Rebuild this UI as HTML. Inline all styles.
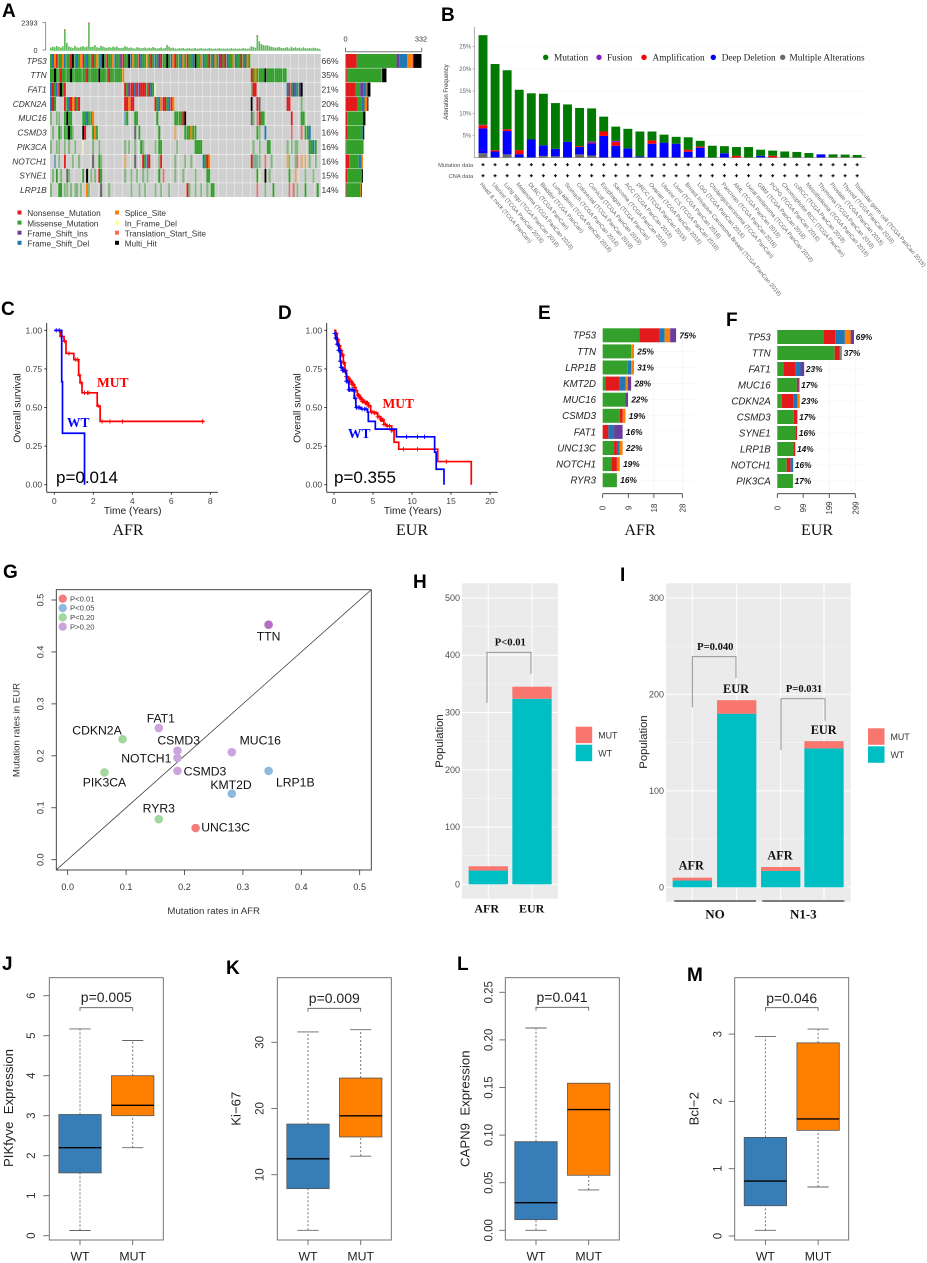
<!DOCTYPE html>
<html lang="en">
<head>
<meta charset="utf-8">
<title>Mutation landscape figure</title>
<style>
html,body{margin:0;padding:0;background:#fff;}
svg{display:block;font-family:"Liberation Sans",sans-serif;}
svg text{white-space:pre;}
</style>
</head>
<body>
<svg id="figure" xmlns="http://www.w3.org/2000/svg" width="927" height="1263" viewBox="0 0 927 1263">
  <rect x="0" y="0" width="927" height="1263" fill="#ffffff"/>
  <g id="panel-a"></g>
  <g id="panel-b"></g>
  <g id="panel-c"></g>
  <g id="panel-d"></g>
  <g id="panel-e"></g>
  <g id="panel-f"></g>
  <g id="panel-g"></g>
  <g id="panel-h"></g>
  <g id="panel-i"></g>
  <g id="panel-j"></g>
  <g id="panel-k"></g>
  <g id="panel-l"></g>
  <g id="panel-m"></g>
</svg>
<script>
/* ---------- Panel A data ---------- */
const oncoGenes = ["TP53","TTN","FAT1","CDKN2A","MUC16","CSMD3","PIK3CA","NOTCH1","SYNE1","LRP1B"];
const oncoPercents = ["66%","35%","21%","20%","17%","16%","16%","16%","15%","14%"];
const oncoTP53 = [[0,"MDSNMMSDMMNHMDMSNMDMMNMSMDHMNMMSDMMINMMHDSMMNDMMSMNMDMINMMHMDSNMMDSMNMMDHMMSDMMNMDSMINMNDMMSDMMNMDSM"]];
const oncoTTN = [[0,"MMHMMNMMMMHMMMMMMMNMMMMMHMMMMNMMMMMMS"],[100,"NMSMMMMHMMMMMMMMMM"]];
const oncoFAT1 = [[0,"DNMDNHMN"],[37,"NMINNDNINNNMNDM"],[52,"f"],[100,"mNN"],[118,"DNMIDMIH"]];
const oncoCDKN2A = [[0,"DNM"],[7,"NMDNSNMN"],[37,"NNSNN"],[52,"NMDSNNMDNS"],[100,"H"],[103,"Nh"],[118,"NN"],[125,"m"]];
const oncoMUC16 = [[0,"m"],[3,"mm"],[7,"MHMM"],[16,"MMDMMS"],[37,"dM"],[42,"MM"],[53,"M"],[62,"MMMMNH"],[100,"hm"],[103,"n"],[104,"NMM"],[120,"N"],[125,"MM"]];
const oncoCSMD3 = [[1,"m"],[4,"M"],[5,"m"],[7,"MMH"],[10,"Mm"],[16,"HN"],[21,"MSM"],[42,"h"],[44,"M"],[54,"M"],[62,"s"],[67,"MMMSMM"],[103,"Mm"],[107,"D"],[120,"n"],[125,"n"],[127,"MMD"]];
const oncoPIK3CA = [[0,"m"],[3,"m"],[4,"m"],[7,"m"],[9,"m"],[12,"m"],[16,"f"],[21,"m"],[24,"m"],[37,"m"],[39,"m"],[42,"m"],[45,"M"],[46,"m"],[52,"m"],[54,"MM"],[63,"m"],[72,"MMMM"],[101,"m"],[104,"m"],[108,"MM"],[118,"m"],[120,"m"],[122,"mm"],[129,"MMDM"]];
const oncoNOTCH1 = [[2,"d"],[4,"m"],[7,"N"],[11,"m"],[14,"m"],[21,"h"],[24,"M"],[25,"m"],[37,"s"],[42,"h"],[46,"NMDN"],[54,"m"],[55,"N"],[62,"m"],[67,"m"],[70,"m"],[76,"DMNS"],[100,"N"],[101,"mdm"],[104,"m"],[107,"n"],[110,"m"],[118,"s"],[119,"m"],[122,"mn"],[125,"s"],[127,"s"],[129,"m"],[132,"m"]];
const oncoSYNE1 = [[1,"m"],[3,"M"],[5,"m"],[8,"h"],[9,"m"],[16,"M"],[18,"H"],[20,"m"],[22,"m"],[24,"NM"],[37,"m"],[40,"m"],[43,"m"],[46,"m"],[48,"m"],[54,"M"],[56,"n"],[62,"m"],[66,"m"],[72,"m"],[78,"MM"],[103,"M"],[104,"f"],[107,"H"],[109,"m"],[119,"M"],[122,"s"],[127,"m"],[131,"m"]];
const oncoLRP1B = [[0,"m"],[4,"MM"],[7,"mm"],[10,"m"],[12,"m"],[13,"m"],[15,"m"],[18,"S"],[19,"m"],[25,"h"],[29,"m"],[40,"m"],[44,"m"],[47,"m"],[52,"m"],[55,"m"],[59,"m"],[68,"Nm"],[72,"m"],[75,"m"],[78,"m"],[80,"MM"],[103,"n"],[107,"m"],[111,"M"],[119,"n"],[121,"n"],[123,"m"],[127,"M"],[133,"M"]];
const oncoTopCounts = [210,300,240,350,260,200,320,1800,620,300,240,180,350,230,200,280,340,240,300,2393,260,290,420,240,200,360,300,220,180,260,200,290,240,300,180,160,200,340,260,180,220,160,130,240,200,150,180,220,140,200,160,260,180,130,160,220,130,180,450,290,160,200,130,110,160,130,180,110,130,160,110,130,180,110,130,160,110,130,110,160,130,110,130,110,160,110,130,110,130,110,160,110,130,110,130,110,160,130,110,130,320,260,200,1300,750,520,430,380,420,340,280,240,200,220,260,180,160,200,240,130,280,180,240,160,200,130,240,160,130,180,130,200,160,130,110];
const sideOrder = ["N","M","I","D","S","T","H"];
const sideTP53 = [49,174,12,35,17,9,36];
const sideTTN = [6,151,0,0,3,0,19];
const sideFAT1 = [45,19,16,12,4,0,13];
const sideCDKN2A = [52,17,0,14,13,0,4];
const sideMUC16 = [7,70,0,0,0,0,10];
const sideCSMD3 = [9,65,0,3,0,0,5];
const sidePIK3CA = [3,76,0,0,0,0,0];
const sideNOTCH1 = [16,42,0,13,5,0,0];
const sideSYNE1 = [7,65,0,0,0,0,4];
const sideLRP1B = [4,61,0,0,3,0,3];
const sideMax = 332;
const oncoLegendCol1 = ["Nonsense_Mutation","Missense_Mutation","Frame_Shift_Ins","Frame_Shift_Del"];
const oncoLegendCol2 = ["Splice_Site","In_Frame_Del","Translation_Start_Site","Multi_Hit"];

/* ---------- Panel B data ---------- */
const cancerTypes = ["Head & neck (TCGA PanCan)","Uterine (TCGA PanCan 2018)","Lung squ (TCGA PanCan 2018)","Melanoma (TCGA PanCan 2018)","DLBC (TCGA PanCan)","Bladder (TCGA PanCan)","Lung adeno (TCGA PanCan 2018)","Stomach (TCGA PanCan 2018)","Colorectal (TCGA PanCan 2018)","Cervical (TCGA PanCan 2018)","Esophagus (TCGA PanCan)","Sarcoma (TCGA PanCan 2018)","ACC (TCGA PanCan 2018)","pRCC (TCGA PanCan 2018)","Ovarian (TCGA PanCan 2018)","Uterine CS (TCGA PanCan 2018)","Liver (TCGA PanCan 2018)","Breast Invasive Carcinoma Breast (TCGA PanCan 2018)","LGG (TCGA PanCan 2018)","Cholangiocarcinoma (TCGA PanCan)","Pancreas (TCGA PanCan 2018)","AML (TCGA PanCan 2018)","Uveal melanoma (TCGA PanCan 2018)","GBM (TCGA PanCan 2018)","PCPG (TCGA PanCan 2018)","Chromophobe RCC (TCGA PanCan)","ccRCC (TCGA PanCan 2018)","Mesothelioma (TCGA PanCan 2018)","Thymoma (TCGA PanCan 2018)","Prostate (TCGA PanCan 2018)","Thyroid (TCGA PanCan 2018)","Testicular germ cell (TCGA PanCan 2018)"];
const altMultiple = [1.0,0,0.75,0,0,0.4,0.3,0,0.75,0.5,0,0,0,0,0,0,0,0,0,0,0,0,0,0,0,0,0,0,0,0,0,0];
const altDeletion = [5.6,1.4,5.25,0.8,4.1,2.4,1.7,3.6,1.65,2.7,4.9,2.7,2.1,0.3,3.15,3.4,3.15,1.35,2.25,0,1.0,0,0,0.45,0,0,0,0,0.75,0,0,0];
const altAmplification = [0.7,0.3,0.4,0.9,0,0,0,0,0.2,0.1,1.0,0.8,0,0,0.75,0,0,0.45,0.25,0,0,0.45,0,0,0.45,0,0,0,0,0.1,0.1,0];
const altFusion = [0.1,0,0,0,0,0,0,0,0,0.3,0,0.3,0,0,0,0,0,0,0,0,0,0,0,0,0,0,0,0,0,0,0,0];
const altMutation = [20.2,19.4,13.3,13.6,10.4,11.6,10.3,8.4,8.6,7.5,3.35,3.2,4.4,5.6,2.0,1.8,1.55,2.8,1.3,2.7,1.6,1.95,2.4,1.35,1.15,1.4,1.3,1.05,0,0.65,0.6,0.6];
const altTicks = [5,10,15,20,25];
const altLegend = ["Mutation","Fusion","Amplification","Deep Deletion","Multiple Alterations"];

/* ---------- Panel C data ---------- */
const cMutTimes = [0,0.3,0.5,0.6,1,1.25,1.32,1.42,2.2,2.35,7.7];
const cMutSurv = [1,0.96,0.93,0.85,0.81,0.71,0.66,0.595,0.51,0.41,0.41];
const cMutCensor = [0.53,0.75,1.1,1.2,1.28,1.38,1.55,1.7,1.78,2.25,2.45,2.85,3.5,7.6];
const cWtTimes = [0,0.38,0.42,1.55];
const cWtSurv = [1,0.667,0.333,0];
const cWtCensor = [0.1,0.25];
const cXTicks = [0,2,4,6,8];
const survTicks = [0,0.25,0.5,0.75,1];

/* ---------- Panel D data ---------- */
const dMutTimes = [0,0.2,0.4,0.6,0.8,1,1.2,1.4,1.6,1.8,2,2.3,2.6,2.8,3,3.3,3.6,4,4.4,4.7,5.2,5.6,6,6.4,6.8,7.4,7.7,8.3,13.3,17.6];
const dMutSurv = [1,0.98,0.94,0.9,0.87,0.84,0.79,0.74,0.7,0.69,0.67,0.65,0.63,0.61,0.58,0.56,0.54,0.53,0.51,0.47,0.465,0.44,0.42,0.39,0.38,0.35,0.275,0.23,0.15,0];
const dMutCensor = [0.2,0.3,0.4,0.5,0.6,0.7,0.8,0.9,1,1.05,1.1,1.15,1.2,1.3,1.4,1.5,1.6,1.7,1.8,1.9,2,2.1,2.2,2.3,2.4,2.5,2.6,2.7,2.8,3,3.1,3.2,3.3,3.4,3.5,3.6,3.7,3.8,3.9,4,4.1,4.2,4.3,4.4,4.6,4.8,5,5.2,5.4,5.6,5.8,6,6.1,6.2,6.3,6.4,6.6,6.8,7.1,7.4,8.9,10.7,14.4];
const dWtTimes = [0,0.2,0.4,0.6,0.8,0.9,1.1,1.5,1.6,1.9,2.5,2.6,2.8,3.5,4.3,4.4,5.3,8,12.9,13.1,14.1];
const dWtSurv = [0.98,0.95,0.91,0.87,0.8,0.76,0.74,0.72,0.67,0.615,0.61,0.56,0.5,0.49,0.47,0.41,0.36,0.31,0.21,0.1,0];
const dWtCensor = [0.1,0.2,0.3,0.4,0.5,0.6,0.7,0.8,0.9,1,1.1,1.2,1.3,1.6,1.7,1.9,2,2.2,2.4,2.7,2.9,3.1,3.3,3.6,3.9,4.1,9.3,10.7,11.6];
const dXTicks = [0,5,10,15,20];

/* ---------- Panels E and F data ---------- */
const geneBarOrder = ["M","N","D","S","I"];
const eGenes = ["TP53","TTN","LRP1B","KMT2D","MUC16","CSMD3","FAT1","UNC13C","NOTCH1","RYR3"];
const ePercents = ["75%","25%","31%","28%","22%","19%","16%","22%","19%","16%"];
const eMissense = [12.9,10,8.8,1,8,6,0,4,3,5];
const eNonsense = [6.9,0,0,5,0,1,2,1,2,0];
const eDeletion = [2,0,1.2,2,0,0,2,1,0,0];
const eSplice = [1.9,1,1,0.8,0,1,0,1,1,0];
const eInsertion = [2.1,0,0,1.2,0.9,0,3,0,0,0];
const eTicks = [0,9,18,28];
const fGenes = ["TP53","TTN","FAT1","MUC16","CDKN2A","CSMD3","SYNE1","LRP1B","NOTCH1","PIK3CA"];
const fPercents = ["69%","37%","23%","17%","23%","17%","16%","14%","16%","17%"];
const fMissense = [179,220,24,75,17,63,70,61,36,60];
const fNonsense = [43,18,47,6,46,14,6,8,15,0];
const fDeletion = [37,5,18,0,14,0,0,0,10,0];
const fSplice = [22,5,0,0,9,0,0,0,0,0];
const fInsertion = [13,0,14,4,0,0,0,0,0,0];
const fTicks = [0,99,199,299];

/* ---------- Panel G data ---------- */
const scatterGenes = ["TTN","FAT1","CDKN2A","CSMD3","NOTCH1","CSMD3","MUC16","PIK3CA","LRP1B","KMT2D","RYR3","UNC13C"];
const scatterAfrRates = [0.344,0.156,0.094,0.188,0.188,0.188,0.281,0.063,0.344,0.281,0.156,0.219];
const scatterEurRates = [0.4525,0.2535,0.232,0.21,0.196,0.171,0.207,0.168,0.171,0.127,0.078,0.061];
const scatterGroups = [4,4,3,4,4,4,4,3,2,2,3,1];
const scatterTicks = [0,0.1,0.2,0.3,0.4,0.5];
const scatterLegend = ["P<0.01","P<0.05","P<0.20","P>0.20"];

/* ---------- Panel H data ---------- */
const hCategories = ["AFR","EUR"];
const hWild = [24,324];
const hMutant = [7.5,21];
const hTicks = [0,100,200,300,400,500];

/* ---------- Panel I data ---------- */
const iCategories = ["AFR","EUR","AFR","EUR"];
const iWild = [7,180,17,144];
const iMutant = [3,14,4,7.5];
const iTicks = [0,100,200,300];

/* ---------- Panels J-M data: [min, q1, median, q3, max] ---------- */
const pikfyveWT = [0.13,1.57,2.2,3.03,5.17];
const pikfyveMUT = [2.2,3,3.26,4,4.88];
const pikfyveTicks = ["0","1","2","3","4","5","6"];
const ki67WT = [1.6,7.9,12.4,17.65,31.56];
const ki67MUT = [12.8,15.7,18.9,24.6,31.9];
const ki67Ticks = ["10","20","30"];
const capn9WT = [0,0.0112,0.029,0.0931,0.2125];
const capn9MUT = [0.0424,0.0578,0.1268,0.1545,0.1545];
const capn9Ticks = ["0.00","0.05","0.10","0.15","0.20","0.25"];
const bcl2WT = [0.084,0.45,0.817,1.465,2.965];
const bcl2MUT = [0.728,1.57,1.74,2.87,3.075];
const bcl2Ticks = ["0","1","2","3"];

/* ---------- Helpers ---------- */
const NS = "http://www.w3.org/2000/svg";
const SERIF = '"Liberation Serif",serif';
function mk(parent, tag, attrs, name) {
  const el = document.createElementNS(NS, tag);
  for (const k in attrs) el.setAttribute(k, attrs[k]);
  
  
  parent.appendChild(el);
  return el;
}
function line(p, x1, y1, x2, y2, stroke, w, name, dash) {
  const a = {x1, y1, x2, y2, stroke, "stroke-width": w};
  if (dash) a["stroke-dasharray"] = dash;
  return mk(p, "line", a, name);
}
function rect(p, x, y, w, h, fill, name, opacity) {
  const a = {x, y, width: Math.max(0, w), height: Math.max(0, h), fill};
  if (opacity !== undefined) a["fill-opacity"] = opacity;
  return mk(p, "rect", a, name);
}
function txt(p, str, x, y, o, name) {
  o = o || {};
  const a = {x, y, "font-size": o.size || 10, fill: o.fill || "#222", "text-anchor": o.anchor || "start"};
  if (o.family) a["font-family"] = o.family;
  if (o.weight) a["font-weight"] = o.weight;
  if (o.style) a["font-style"] = o.style;
  if (o.rot !== undefined) a.transform = "rotate(" + o.rot + " " + x + " " + y + ")";
  const el = mk(p, "text", a, name);
  el.textContent = str;
  return el;
}
function panelLetter(p, s, x, y) {
  txt(p, s, x, y, {size: 19, weight: "bold", fill: "#000"}, "panel-letter-" + s.toLowerCase());
}
const $ = id => document.getElementById(id);

/* ---------- Panel A ---------- */
(function () {
  const g = $("panel-a");
  panelLetter(g, "A", 2, 17);
  const colors = {N:"#e31a1c",M:"#33a02c",I:"#6a3d9a",D:"#1f78b4",S:"#ff7f00",F:"#ffff99",T:"#fb6a4a",H:"#000000"};
  const rows = [oncoTP53,oncoTTN,oncoFAT1,oncoCDKN2A,oncoMUC16,oncoCSMD3,oncoPIK3CA,oncoNOTCH1,oncoSYNE1,oncoLRP1B];
  const sides = [sideTP53,sideTTN,sideFAT1,sideCDKN2A,sideMUC16,sideCSMD3,sidePIK3CA,sideNOTCH1,sideSYNE1,sideLRP1B];
  const X0 = 50, CW = 270.7 / 135, Y0 = 54, PITCH = 14.35, RH = 13.9;
  const colX = c => X0 + c * CW;
  const rowY = r => Y0 + r * PITCH;
  const countH = v => v / 2393 * 27.5;
  const sideX = v => 345.5 + v / sideMax * 76;
  oncoTopCounts.forEach((v, c) => {
    rect(g, colX(c), 50 - countH(v), CW * 0.8, countH(v), "#5fb85b", "mutation-burden-bar");
    if (v > 1000) rect(g, colX(c), 50 - countH(v), CW * 0.8, 1.2, "#e8685a", "mutation-burden-bar-cap");
  });
  line(g, 45.7, 22.5, 45.7, 50, "#777", 0.8, "burden-axis");
  line(g, 42.5, 22.5, 45.7, 22.5, "#777", 0.8, "burden-axis-tick");
  line(g, 42.5, 50, 45.7, 50, "#777", 0.8, "burden-axis-tick");
  txt(g, "2393", 37.5, 25.3, {size: 7.3, anchor: "end", fill: "#333"}, "burden-axis-max-label");
  txt(g, "0", 37.5, 53, {size: 7.3, anchor: "end", fill: "#333"}, "burden-axis-zero-label");
  line(g, 50, 50.7, 321, 50.7, "#7cc47a", 0.8, "burden-baseline");
  oncoGenes.forEach((gene, r) => {
    const y = rowY(r);
    rect(g, X0, y, 270.7, RH, "#d0d0d0", "oncoplot-row-background");
    rows[r].forEach(seg => {
      [...seg[1]].forEach((code, i) => {
        const up = code.toUpperCase();
        rect(g, colX(seg[0] + i), y, CW, RH, colors[up], "oncoplot-cell-" + gene.toLowerCase(), code === up ? 1 : 0.5);
      });
    });
    txt(g, gene, 46.7, y + 9.8, {size: 8.4, style: "italic", anchor: "end", fill: "#333"}, "gene-label");
    txt(g, oncoPercents[r], 321.5, y + 9.8, {size: 8.5, fill: "#333"}, "gene-percent");
    let acc = 0;
    sides[r].forEach((v, i) => {
      if (!v) return;
      rect(g, sideX(acc), y, sideX(acc + v) - sideX(acc), RH, colors[sideOrder[i]], "side-bar-segment-" + gene.toLowerCase());
      acc += v;
    });
  });
  for (let c = 4; c < 135; c += 4) line(g, colX(c), 54, colX(c), 199, "#ffffff", 0.35, "oncoplot-column-guide");
  line(g, 345.5, 51.7, 421.7, 51.7, "#777", 1, "side-axis");
  line(g, 345.5, 47.7, 345.5, 51.7, "#777", 1, "side-axis-tick");
  line(g, 421.7, 47.7, 421.7, 51.7, "#777", 1, "side-axis-tick");
  txt(g, "0", 345.5, 41.7, {size: 7.3, anchor: "middle", fill: "#333"}, "side-axis-zero-label");
  txt(g, String(sideMax), 421, 41.7, {size: 7.3, anchor: "middle", fill: "#333"}, "side-axis-max-label");
  const c1 = ["N","M","I","D"], c2 = ["S","F","T","H"];
  oncoLegendCol1.forEach((s, i) => {
    rect(g, 17.5, 210.5 + i * 10.1, 4, 4, colors[c1[i]], "legend-swatch");
    txt(g, s, 27.3, 216.2 + i * 10.1, {size: 8.25, fill: "#333"}, "legend-entry");
  });
  oncoLegendCol2.forEach((s, i) => {
    rect(g, 115, 210.5 + i * 10.1, 4, 4, colors[c2[i]], "legend-swatch");
    txt(g, s, 124.7, 216.2 + i * 10.1, {size: 8.25, fill: "#333"}, "legend-entry");
  });
})();

/* ---------- Panel B ---------- */
(function () {
  const g = $("panel-b");
  panelLetter(g, "B", 441, 21);
  const x = i => 483 + i * 12.07;
  const y = v => 157.7 - v * 4.44;
  altTicks.forEach(t => {
    line(g, 474.3, y(t), 866, y(t), "#eeeeee", 0.6, "y-gridline", "2,2");
    line(g, 472.5, y(t), 474.3, y(t), "#999", 0.6, "y-tick");
    txt(g, t + "%", 471.3, y(t) + 2, {size: 6, anchor: "end", fill: "#666"}, "y-tick-label");
  });
  const layers = [[altMultiple,"#6b6b6b","multiple"],[altDeletion,"#0000ff","deletion"],[altAmplification,"#ff0000","amplification"],[altFusion,"#8a1fc0","fusion"],[altMutation,"#007a00","mutation"]];
  cancerTypes.forEach((name, i) => {
    let acc = 0;
    layers.forEach(l => {
      const v = l[0][i];
      if (!v) return;
      rect(g, x(i) - 4.45, y(acc + v), 8.9, y(acc) - y(acc + v), l[1], "bar-" + l[2]);
      acc += v;
    });
    mk(g, "path", {d: "M" + (x(i) - 1.6) + " 164.7H" + (x(i) + 1.6) + "M" + x(i) + " 163.1V166.3", stroke: "#000", "stroke-width": 1}, "mutation-data-marker");
    mk(g, "path", {d: "M" + (x(i) - 1.6) + " 175.7H" + (x(i) + 1.6) + "M" + x(i) + " 174.1V177.3", stroke: "#000", "stroke-width": 1}, "cna-data-marker");
    txt(g, name, x(i) - 3.3, 184.5, {size: 5.8, fill: "#666", rot: 50}, "cancer-type-label");
  });
  line(g, 474.3, 26.7, 474.3, 157.7, "#888", 0.7, "y-axis");
  line(g, 474.3, 157.7, 866, 157.7, "#888", 0.7, "x-axis");
  txt(g, "Alteration Frequency", 448, 92, {size: 6, anchor: "middle", fill: "#333", rot: -90}, "y-axis-title");
  txt(g, "Mutation data", 473.3, 166.8, {size: 5.8, anchor: "end", fill: "#555"}, "mutation-data-label");
  txt(g, "CNA data", 473.3, 177.8, {size: 5.8, anchor: "end", fill: "#555"}, "cna-data-label");
  const lx = [545.7,599,644,713.3,782.7], tx = [554,607,652.5,721.7,789.5];
  const lc = ["#007a00","#8a1fc0","#ff0000","#0000ff","#6b6b6b"];
  altLegend.forEach((s, i) => {
    mk(g, "circle", {cx: lx[i], cy: 57.3, r: 2.7, fill: lc[i]}, "legend-dot");
    txt(g, s, tx[i], 60.3, {size: 9.3, family: SERIF, fill: "#222"}, "legend-entry");
  });
})();

/* ---------- Panels C, D ---------- */
function drawSurvival(g, cfg) {
  const x = t => cfg.x0 + t * cfg.pxPerYear;
  const y = s => 484.7 - 154.4 * s;
  const lookup = (times, surv, t) => {
    let s = surv[0];
    times.forEach((tt, i) => { if (tt <= t) s = surv[i]; });
    return s;
  };
  const curve = (times, surv, censor, color, name) => {
    let d = "M" + x(times[0]) + " " + y(surv[0]);
    for (let i = 1; i < times.length; i++) d += "H" + x(times[i]) + "V" + y(surv[i]);
    mk(g, "path", {d, fill: "none", stroke: color, "stroke-width": 1.7}, name + "-survival-curve");
    censor.forEach(t => {
      const cx = x(t), cy = y(lookup(times, surv, t));
      mk(g, "path", {d: "M" + (cx - 2.2) + " " + cy + "H" + (cx + 2.2) + "M" + cx + " " + (cy - 2.2) + "V" + (cy + 2.2), stroke: color, "stroke-width": 0.9}, name + "-censor-mark");
    });
  };
  curve(cfg.mutT, cfg.mutS, cfg.mutC, "#ff0000", "mut");
  curve(cfg.wtT, cfg.wtS, cfg.wtC, "#0000ff", "wt");
  line(g, cfg.axisX, 323, cfg.axisX, 492.3, "#222", 0.9, "y-axis");
  line(g, cfg.axisX, 492.3, cfg.axisEnd, 492.3, "#222", 0.9, "x-axis");
  survTicks.forEach(t => {
    line(g, cfg.axisX - 2.5, y(t), cfg.axisX, y(t), "#222", 0.8, "y-tick");
    txt(g, t.toFixed(2), cfg.axisX - 4.5, y(t) + 3, {size: 8.6, anchor: "end", fill: "#444"}, "y-tick-label");
  });
  cfg.ticks.forEach(t => {
    line(g, x(t), 492.3, x(t), 494.8, "#222", 0.8, "x-tick");
    txt(g, String(t), x(t), 504, {size: 8.6, anchor: "middle", fill: "#444"}, "x-tick-label");
  });
  txt(g, "Overall survival", cfg.axisX - 26, 408, {size: 10.2, anchor: "middle", fill: "#222", rot: -90}, "y-axis-title");
  txt(g, "Time (Years)", cfg.axisX + 86, 514, {size: 10.2, anchor: "middle", fill: "#222"}, "x-axis-title");
  txt(g, "MUT", cfg.mutLabel[0], cfg.mutLabel[1], {size: 13.5, weight: "bold", family: SERIF, fill: "#ff0000"}, "mut-series-label");
  txt(g, "WT", cfg.wtLabel[0], cfg.wtLabel[1], {size: 13.5, weight: "bold", family: SERIF, fill: "#0000ff"}, "wt-series-label");
  txt(g, cfg.p, cfg.pX, 483, {size: 17, fill: "#000"}, "p-value");
  txt(g, cfg.title, cfg.titleX, 535, {size: 16, family: SERIF, anchor: "middle", fill: "#111"}, "ancestry-title");
}
panelLetter($("panel-c"), "C", 1, 315);
panelLetter($("panel-d"), "D", 278, 319);
drawSurvival($("panel-c"), {x0: 54.3, pxPerYear: 19.5, axisX: 46.7, axisEnd: 218, mutT: cMutTimes, mutS: cMutSurv, mutC: cMutCensor, wtT: cWtTimes, wtS: cWtSurv, wtC: cWtCensor, ticks: cXTicks, mutLabel: [97, 387], wtLabel: [67, 427], p: "p=0.014", pX: 56, title: "AFR", titleX: 128});
drawSurvival($("panel-d"), {x0: 334, pxPerYear: 7.8, axisX: 326.7, axisEnd: 497.7, mutT: dMutTimes, mutS: dMutSurv, mutC: dMutCensor, wtT: dWtTimes, wtS: dWtSurv, wtC: dWtCensor, ticks: dXTicks, mutLabel: [382.5, 408], wtLabel: [348, 438], p: "p=0.355", pX: 334, title: "EUR", titleX: 412});

/* ---------- Panels E, F ---------- */
function drawGeneBars(g, cfg) {
  const colors = {M:"#33a02c",N:"#e31a1c",D:"#1f78b4",S:"#ff7f00",I:"#6a3d9a"};
  const x = v => cfg.x0 + v * cfg.pxPerUnit;
  const y = r => cfg.y0 + r * cfg.pitch;
  cfg.ticks.forEach(t => line(g, x(t), y(0) - 8, x(t), 490, "#f2f2f2", 0.6, "vertical-gridline"));
  cfg.genes.forEach((gene, r) => {
    line(g, cfg.x0, y(r), x(cfg.ticks[cfg.ticks.length - 1]) + 12, y(r), "#f4f4f4", 0.6, "horizontal-gridline");
    let acc = 0;
    cfg.series.forEach((arr, i) => {
      const v = arr[r];
      if (!v) return;
      rect(g, x(acc), y(r) - 7, x(acc + v) - x(acc), 14, colors[geneBarOrder[i]], "bar-segment-" + gene.toLowerCase());
      acc += v;
    });
    txt(g, gene, cfg.labelX, y(r) + 3.4, {size: 9.7, style: "italic", anchor: "end", fill: "#222"}, "gene-label");
    txt(g, cfg.percents[r], x(acc) + cfg.gap, y(r) + 3, {size: 8.3, weight: "bold", style: "italic", fill: "#111"}, "gene-percent");
  });
  line(g, x(0), 493.7, x(cfg.ticks[cfg.ticks.length - 1]), 493.7, "#333", 0.8, "x-axis");
  cfg.ticks.forEach(t => {
    line(g, x(t), 493.7, x(t), 498, "#333", 0.8, "x-tick");
    txt(g, String(t), x(t) + 3, 508, {size: 7.8, anchor: "middle", fill: "#333", rot: -90}, "x-tick-label");
  });
  txt(g, cfg.title, cfg.titleX, 535, {size: 16, family: SERIF, anchor: "middle", fill: "#111"}, "ancestry-title");
}
panelLetter($("panel-e"), "E", 538, 319);
panelLetter($("panel-f"), "F", 726, 326);
drawGeneBars($("panel-e"), {x0: 602.7, pxPerUnit: 2.845, y0: 335.3, pitch: 16.1, genes: eGenes, percents: ePercents, series: [eMissense,eNonsense,eDeletion,eSplice,eInsertion], ticks: eTicks, labelX: 596, gap: 3.3, title: "AFR", titleX: 640});
drawGeneBars($("panel-f"), {x0: 777.3, pxPerUnit: 0.2609, y0: 337, pitch: 16, genes: fGenes, percents: fPercents, series: [fMissense,fNonsense,fDeletion,fSplice,fInsertion], ticks: fTicks, labelX: 770.7, gap: 1.7, title: "EUR", titleX: 817});

/* ---------- Panel G ---------- */
(function () {
  const g = $("panel-g");
  panelLetter(g, "G", 3, 578);
  const x = v => 67.7 + v * 584;
  const y = v => 859.7 - v * 519.4;
  const labelNudge = [[0,16],[2,-5.7],[-25.6,-4.9],[1.2,-5.9],[-31.2,4.4],[27.5,4.8],[28.5,-7.5],[0,13.9],[26.7,15.4],[-0.8,-4.7],[0,-6.5],[30,3.7]];
  const groupColor = {1:"#f47c7c",2:"#8fb9de",3:"#a2d8a0",4:"#cba4dc"};
  mk(g, "rect", {x: 56.3, y: 589.7, width: 315, height: 280.3, fill: "none", stroke: "#333", "stroke-width": 0.9}, "plot-frame");
  line(g, x(-0.0195), y(-0.0195), x(0.5197), y(0.5197), "#444", 0.8, "identity-line");
  scatterGenes.forEach((gene, i) => {
    mk(g, "circle", {cx: x(scatterAfrRates[i]), cy: y(scatterEurRates[i]), r: 4.3, fill: i === 0 ? "#b46fc4" : groupColor[scatterGroups[i]]}, "point-" + gene.toLowerCase());
    txt(g, gene, x(scatterAfrRates[i]) + labelNudge[i][0], y(scatterEurRates[i]) + labelNudge[i][1], {size: 12.2, anchor: "middle", fill: "#111"}, "point-label-" + gene.toLowerCase());
  });
  scatterTicks.forEach(t => {
    line(g, x(t), 870, x(t), 875, "#333", 0.8, "x-tick");
    txt(g, t.toFixed(1), x(t), 890, {size: 9.1, anchor: "middle", fill: "#333"}, "x-tick-label");
    line(g, 51.3, y(t), 56.3, y(t), "#333", 0.8, "y-tick");
    txt(g, t.toFixed(1), 43.3, y(t), {size: 9.1, anchor: "middle", fill: "#333", rot: -90}, "y-tick-label");
  });
  scatterLegend.forEach((s, i) => {
    mk(g, "circle", {cx: 62.7, cy: 598.7 + i * 9.33, r: 4.2, fill: groupColor[i + 1]}, "legend-dot");
    txt(g, s, 70, 601.3 + i * 9.33, {size: 7.7, fill: "#444"}, "legend-entry");
  });
  txt(g, "Mutation rates in AFR", 213.7, 914, {size: 9.65, anchor: "middle", fill: "#333"}, "x-axis-title");
  txt(g, "Mutation rates in EUR", 19.3, 730, {size: 9.65, anchor: "middle", fill: "#333", rot: -90}, "y-axis-title");
})();

/* ---------- Panels H, I ---------- */
function drawPopulationFrame(g, cfg) {
  rect(g, cfg.left, cfg.top, cfg.right - cfg.left, cfg.bottom - cfg.top, "#ebebeb", "plot-background");
  for (let i = 0; i < cfg.ticks.length; i++) {
    const t = cfg.ticks[i];
    line(g, cfg.left, cfg.y(t), cfg.right, cfg.y(t), "#ffffff", 1, "major-gridline");
    if (i < cfg.ticks.length - 1) {
      const m = (t + cfg.ticks[i + 1]) / 2;
      line(g, cfg.left, cfg.y(m), cfg.right, cfg.y(m), "#f6f6f6", 0.6, "minor-gridline");
    }
    txt(g, String(t), cfg.left - 2, cfg.y(t) + 3, {size: 9, anchor: "end", fill: "#4d4d4d"}, "y-tick-label");
  }
  cfg.centers.forEach(c => line(g, c, cfg.top, c, cfg.bottom, "#ffffff", 1, "vertical-gridline"));
  cfg.centers.forEach((c, i) => {
    const w = cfg.wild[i], m = cfg.mutant[i];
    rect(g, c - 19.65, cfg.y(w), 39.3, cfg.y(0) - cfg.y(w), "#00bfc4", "bar-wt");
    rect(g, c - 19.65, cfg.y(w + m), 39.3, cfg.y(w) - cfg.y(w + m), "#f8766d", "bar-mut");
  });
  txt(g, "Population", cfg.titleX, cfg.titleY, {size: 11.3, anchor: "middle", fill: "#222", rot: -90}, "y-axis-title");
  rect(g, cfg.legendX, cfg.legendY, 16.5, 16.5, "#f8766d", "legend-swatch-mut");
  rect(g, cfg.legendX, cfg.legendY + 18, 16.5, 16.5, "#00bfc4", "legend-swatch-wt");
  txt(g, "MUT", cfg.legendX + 22.5, cfg.legendY + 11.8, {size: 8.9, fill: "#333"}, "legend-entry-mut");
  txt(g, "WT", cfg.legendX + 22.5, cfg.legendY + 29.8, {size: 8.9, fill: "#333"}, "legend-entry-wt");
}
function bracket(g, x1, yStart, yTop, x2, yEnd, label, tx, ty) {
  mk(g, "path", {d: "M" + x1 + " " + yStart + "V" + yTop + "H" + x2 + "V" + yEnd, fill: "none", stroke: "#888", "stroke-width": 0.9}, "significance-bracket");
  txt(g, label, tx, ty, {size: 10.6, weight: "bold", family: SERIF, anchor: "middle", fill: "#111"}, "significance-label");
}
(function () {
  const g = $("panel-h");
  panelLetter(g, "H", 413, 588);
  drawPopulationFrame(g, {left: 462, right: 558, top: 583.3, bottom: 898.7, y: v => 884.3 - v * 0.5727, ticks: hTicks, centers: [488.3, 532], wild: hWild, mutant: hMutant, titleX: 443, titleY: 741, legendX: 575.7, legendY: 726.7});
  hCategories.forEach((s, i) => txt(g, s, [486.7, 531.7][i], 912.3, {size: 12, weight: "bold", family: SERIF, anchor: "middle", fill: "#111"}, "category-label"));
  bracket(g, 487, 702.7, 652.3, 531, 674, "P<0.01", 510.3, 645.7);
})();
(function () {
  const g = $("panel-i");
  panelLetter(g, "I", 620, 581);
  drawPopulationFrame(g, {left: 666, right: 850.7, top: 583.3, bottom: 901.7, y: v => 887.3 - v * 0.9644, ticks: iTicks, centers: [692.3, 736.7, 780.7, 824], wild: iWild, mutant: iMutant, titleX: 647, titleY: 742, legendX: 868, legendY: 728.3});
  const lx = [691.3, 736, 780, 823.7], ly = [869.3, 693, 859.3, 734];
  iCategories.forEach((s, i) => txt(g, s, lx[i], ly[i], {size: 12.3, weight: "bold", family: SERIF, anchor: "middle", fill: "#111"}, "bar-group-label"));
  bracket(g, 692.3, 707.3, 656.7, 736, 678, "P=0.040", 715.3, 650);
  bracket(g, 781, 750, 698.7, 825, 720.7, "P=0.031", 804, 692);
  line(g, 674.3, 901, 756, 901, "#555", 1.5, "no-group-rule");
  line(g, 762.3, 901, 844.3, 901, "#555", 1.5, "n1-3-group-rule");
  txt(g, "NO", 715, 918.5, {size: 13, weight: "bold", family: SERIF, anchor: "middle", fill: "#111"}, "no-group-label");
  txt(g, "N1-3", 803.3, 918.5, {size: 13, weight: "bold", family: SERIF, anchor: "middle", fill: "#111"}, "n1-3-group-label");
})();

/* ---------- Panels J-M ---------- */
function drawBox(g, cfg) {
  const y = cfg.y;
  const centers = [cfg.left + 30.7, cfg.left + 83.4];
  const stats = [cfg.wt, cfg.mut];
  const fills = ["#377eb8", "#ff7f00"];
  const names = ["WT", "MUT"];
  mk(g, "rect", {x: cfg.left, y: 977.7, width: 114, height: 262.3, fill: "none", stroke: "#666", "stroke-width": 0.9}, "plot-frame");
  stats.forEach((s, i) => {
    const c = centers[i];
    const nm = names[i].toLowerCase();
    line(g, c, y(s[0]), c, y(s[1]), "#666", 0.9, nm + "-lower-whisker", "2,2");
    if (s[4] > s[3]) {
      line(g, c, y(s[3]), c, y(s[4]), "#666", 0.9, nm + "-upper-whisker", "2,2");
      line(g, c - 10.6, y(s[4]), c + 10.6, y(s[4]), "#666", 0.9, nm + "-upper-cap");
    }
    line(g, c - 10.6, y(s[0]), c + 10.6, y(s[0]), "#666", 0.9, nm + "-lower-cap");
    mk(g, "rect", {x: c - 21.2, y: y(s[3]), width: 42.4, height: y(s[1]) - y(s[3]), fill: fills[i], stroke: "#555", "stroke-width": 0.8}, nm + "-box");
    line(g, c - 21.2, y(s[2]), c + 21.2, y(s[2]), "#000", 1.4, nm + "-median");
    line(g, c, 1240, c, 1245, "#666", 0.9, "x-tick");
    txt(g, names[i], c, 1260.7, {size: 12.3, anchor: "middle", fill: "#222"}, "x-tick-label");
  });
  const tickVals = cfg.ticks.map(Number);
  cfg.ticks.forEach((t, i) => {
    line(g, cfg.left - 6, y(tickVals[i]), cfg.left, y(tickVals[i]), "#666", 0.9, "y-tick");
    txt(g, t, cfg.tickX, y(tickVals[i]), {size: 11.5, anchor: "middle", fill: "#333", rot: -90}, "y-tick-label");
  });
  txt(g, cfg.title, cfg.titleX, cfg.titleY, {size: 13.2, anchor: "middle", fill: "#222", rot: -90}, "y-axis-title");
  mk(g, "path", {d: "M" + centers[0] + " " + (cfg.brTop + 3.4) + "V" + cfg.brTop + "H" + centers[1] + "V" + (cfg.brTop + 3.4), fill: "none", stroke: "#555", "stroke-width": 0.8}, "significance-bracket");
  txt(g, cfg.p, cfg.pX, cfg.pY, {size: 14, anchor: "middle", fill: "#222"}, "p-value");
}
panelLetter($("panel-j"), "J", 2, 970);
panelLetter($("panel-k"), "K", 226, 974);
panelLetter($("panel-l"), "L", 457, 970);
panelLetter($("panel-m"), "M", 687, 981);
drawBox($("panel-j"), {left: 49.3, y: v => 1235.7 - v * 40, wt: pikfyveWT, mut: pikfyveMUT, ticks: pikfyveTicks, tickX: 35, title: "PIKfyve  Expression", titleX: 13, titleY: 1108, brTop: 1007.7, p: "p=0.005", pX: 106.3, pY: 1002});
drawBox($("panel-k"), {left: 277.3, y: v => 1174.7 - (v - 10) * 6.62, wt: ki67WT, mut: ki67MUT, ticks: ki67Ticks, tickX: 263.3, title: "Ki\u221267", titleX: 240.7, titleY: 1108.7, brTop: 1008.3, p: "p=0.009", pX: 334.3, pY: 1003});
drawBox($("panel-l"), {left: 505.3, y: v => 1230.3 - v * 952, wt: capn9WT, mut: capn9MUT, ticks: capn9Ticks, tickX: 492.3, title: "CAPN9  Expression", titleX: 469.3, titleY: 1108.7, brTop: 1007.3, p: "p=0.041", pX: 562, pY: 1002});
drawBox($("panel-m"), {left: 734.7, y: v => 1236 - v * 67.3, wt: bcl2WT, mut: bcl2MUT, ticks: bcl2Ticks, tickX: 721.7, title: "Bcl\u22122", titleX: 698.3, titleY: 1108.7, brTop: 1007.7, p: "p=0.046", pX: 791.7, pY: 1003});
</script>
</body>
</html>
